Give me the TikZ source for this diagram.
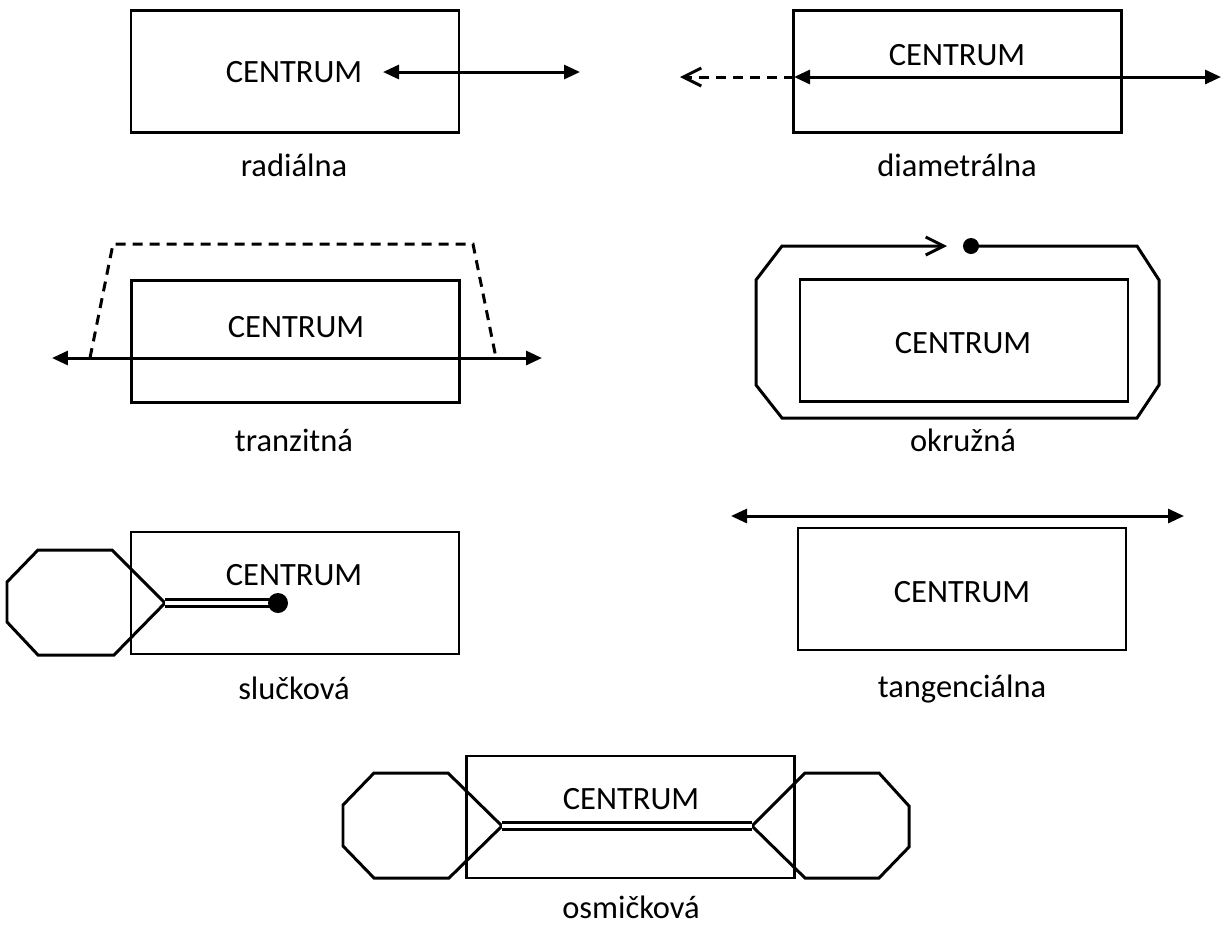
\documentclass[tikz,border=0pt]{standalone}
\usepackage{fontspec}
\setmainfont{Carlito}
\usetikzlibrary{positioning, arrows.meta}

\begin{document}
\begin{tikzpicture}[x=0.02cm,y=-0.02cm,
  centrum/.style={draw,line width=1.6pt,minimum width=6.56cm,minimum height=2.44cm,inner sep=0pt},
  txt/.style={font=\fontsize{18.5}{22}\selectfont,inner sep=0pt},
  thickline/.style={line width=1.7pt},
  twoway/.style={{Triangle[length=0.32cm,width=0.28cm]}-{Triangle[length=0.32cm,width=0.28cm]}},
  openarrow/.style={-{Straight Barb[length=0.36cm,width=0.36cm]}},
  dashline/.style={dash pattern=on 0.2cm off 0.14cm},
  twin/.style={double,line width=1.6pt,double distance=0.08cm}]
\useasboundingbox (0,0) rectangle (1223,931);

\node[centrum] (radBox) at (295,71.5) {};
\node[txt] (radText) at (294,72) {CENTRUM};
\node[txt] (radLbl) at (294,165) {radiálna};
\coordinate (radL) at (383,72);
\coordinate (radR) at (580,72);
\draw[thickline,twoway] (radL) -- (radR);

\node[centrum] (diaBox) at (957.5,71.5) {};
\node[txt] (diaText) at (957,55) {CENTRUM};
\node[txt] (diaLbl) at (957,165) {diametrálna};
\coordinate (diaL) at (794,77);
\coordinate (diaR) at (1221,77);
\coordinate (diaD) at (680,77);
\draw[thickline,twoway] (diaL) -- (diaR);
\draw[thickline,dashline,openarrow] (diaL) -- (diaD);

\node[centrum] (tranBox) at (295.5,341.5) {};
\node[txt] (tranText) at (296,327) {CENTRUM};
\node[txt] (tranLbl) at (294,440) {tranzitná};
\coordinate (tranL) at (52,358);
\coordinate (tranR) at (542,358);
\draw[thickline,twoway] (tranL) -- (tranR);
\draw[thickline,dashline] (90,358) -- (113,244) -- (473,244) -- (496,358);

\node[centrum] (okrBox) at (964,340.5) {};
\node[txt] (okrText) at (963,343) {CENTRUM};
\node[txt] (okrLbl) at (963,440) {okružná};
\coordinate (okrDot) at (971,246);
\coordinate (okrEnd) at (947,246);
\draw[thickline,openarrow] (okrDot) -- (1137,246) -- (1159,280) -- (1159,385) -- (1137,418)
  -- (782,418) -- (756,385) -- (756,280) -- (782,246) -- (okrEnd);
\fill (okrDot) circle (0.16cm);

\node[centrum] (slucBox) at (295,593) {};
\node[txt] (slucText) at (294,575) {CENTRUM};
\node[txt] (slucLbl) at (294,688) {slučková};
\coordinate (slucApex) at (165,603);
\coordinate (slucDot) at (278,603);
\draw[thickline,line join=miter] (38,550) -- (112,550) -- (slucApex) -- (114,655) -- (38,655)
  -- (7,622) -- (7,582) -- cycle;
\draw[twin] (slucApex) -- (slucDot);
\fill (slucDot) circle (0.2cm);

\node[centrum] (tanBox) at (962,589) {};
\node[txt] (tanText) at (962,592) {CENTRUM};
\node[txt] (tanLbl) at (962,689) {tangenciálna};
\coordinate (tanL) at (731,516);
\coordinate (tanR) at (1184,516);
\draw[thickline,twoway] (tanL) -- (tanR);

\node[centrum] (osmBox) at (630.5,817) {};
\node[txt] (osmText) at (631,799) {CENTRUM};
\node[txt] (osmLbl) at (631,907) {osmičková};
\coordinate (osmA) at (502,826);
\coordinate (osmB) at (752,826);
\draw[thickline] (374,773) -- (448,773) -- (osmA) -- (449,878) -- (374,878) -- (343,846)
  -- (343,805) -- cycle;
\draw[thickline] (805,773) -- (879,773) -- (909,806) -- (909,847) -- (879,878) -- (805,878)
  -- (osmB) -- cycle;
\draw[twin] (osmA) -- (osmB);
\end{tikzpicture}
\end{document}
